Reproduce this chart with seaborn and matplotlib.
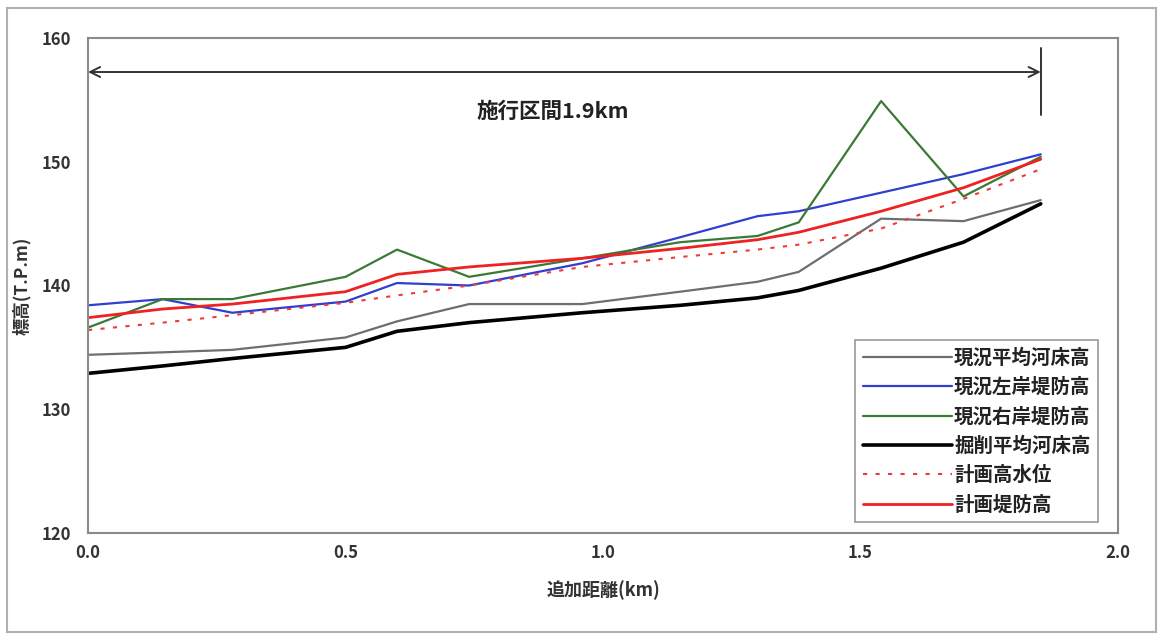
import matplotlib
matplotlib.use('Agg')
import matplotlib.pyplot as plt
import seaborn as sns
from matplotlib.patches import Rectangle

# ────────────────────────────────────────────────
# DATA
# ────────────────────────────────────────────────
distance = [0.0, 0.145, 0.28, 0.5, 0.6, 0.74, 0.96, 1.15, 1.3, 1.38, 1.54, 1.70, 1.85]

bed_now      = [134.4, 134.6, 134.8, 135.8, 137.1, 138.5, 138.5, 139.5, 140.3, 141.1, 145.4, 145.2, 146.9]
left_bank    = [138.4, 138.9, 137.8, 138.7, 140.2, 140.0, 141.8, 143.9, 145.6, 146.0, 147.5, 149.0, 150.6]
right_bank   = [136.6, 138.9, 138.9, 140.7, 142.9, 140.7, 142.2, 143.5, 144.0, 145.1, 154.9, 147.2, 150.4]
bed_dredged  = [132.9, 133.5, 134.1, 135.0, 136.3, 137.0, 137.8, 138.4, 139.0, 139.6, 141.4, 143.5, 146.6]
plan_hwl     = [136.4, 137.0, 137.6, 138.6, 139.2, 140.0, 141.5, 142.3, 142.9, 143.3, 144.6, 147.0, 149.4]
plan_levee   = [137.4, 138.1, 138.5, 139.5, 140.9, 141.5, 142.2, 143.0, 143.7, 144.3, 146.0, 147.9, 150.2]

series_labels = ['現況平均河床高', '現況左岸堤防高', '現況右岸堤防高',
                 '掘削平均河床高', '計画高水位', '計画堤防高']

x_ticks = [0.0, 0.5, 1.0, 1.5, 2.0]
y_ticks = [120, 130, 140, 150, 160]

section_end = 1.85
section_text = '施行区間1.9km'

# ────────────────────────────────────────────────
# STYLE
# ────────────────────────────────────────────────
sns.set_style('white')
plt.rcParams['font.family'] = ['Noto Sans CJK JP', 'DejaVu Sans']

styles = [
    dict(color='#6e6e6e', lw=1.6, ls='-'),
    dict(color='#2f3fd0', lw=1.6, ls='-'),
    dict(color='#3a7a34', lw=1.6, ls='-'),
    dict(color='#000000', lw=2.6, ls='-'),
    dict(color='#ee3a3a', lw=1.5, ls=(0, (2, 4))),
    dict(color='#ee2222', lw=2.0, ls='-'),
]
all_series = [bed_now, left_bank, right_bank, bed_dredged, plan_hwl, plan_levee]

fig = plt.figure(figsize=(11.63, 6.35), dpi=100)
ax = fig.add_axes([0.0757, 0.1606, 0.9613 - 0.0757, 0.9402 - 0.1606])

for vals, lab, st in zip(all_series, series_labels, styles):
    sns.lineplot(x=distance, y=vals, ax=ax, label=lab, color=st['color'],
                 linewidth=st['lw'], linestyle=st['ls'])

ax.set_xlim(0, 2.0)
ax.set_ylim(120, 160)
ax.set_xticks(x_ticks)
ax.set_xticklabels([f'{v:.1f}' for v in x_ticks])
ax.set_yticks(y_ticks)
ax.tick_params(direction='in', length=3, color='#999999', labelsize=12,
               labelcolor='#333333')
for lbl in ax.get_xticklabels() + ax.get_yticklabels():
    lbl.set_fontweight('bold')
ax.tick_params(axis='x', pad=8)
ax.tick_params(axis='y', pad=12)
for sp in ax.spines.values():
    sp.set_color('#8a8a8a')
    sp.set_linewidth(1.5)

ax.set_xlabel('追加距離(km)', fontsize=13, fontweight='bold', color='#333333')
ax.set_ylabel('標高(T.P.m)', fontsize=12.5, fontweight='bold', color='#333333')
ax.xaxis.set_label_coords(0.5, -0.095)
ax.yaxis.set_label_coords(-0.055, 0.5)

# construction section annotation
ax.annotate('', xy=(0.0, 157.25), xytext=(section_end, 157.25),
            arrowprops=dict(arrowstyle='<->', color='#333333', lw=1.4,
                            shrinkA=0, shrinkB=0, mutation_scale=18))
ax.plot([section_end, section_end], [159.2, 153.8], color='#333333', lw=1.4)
ax.text(0.902, 154.1, section_text, ha='center', va='center', fontsize=15.5,
        fontweight='bold', color='#222222')

leg = ax.legend(loc='lower right', bbox_to_anchor=(0.981, 0.022), borderaxespad=0,
                fontsize=14, handlelength=4.6, handletextpad=0.1, labelspacing=0.52,
                borderpad=0.4, fancybox=False, framealpha=1, edgecolor='#999999')
leg.get_frame().set_linewidth(1.2)
for t in leg.get_texts():
    t.set_fontweight('bold')
    t.set_color('#222222')

# outer chart frame
fig.patches.append(Rectangle((0.006, 0.004), 0.988, 0.983, transform=fig.transFigure,
                             fill=False, edgecolor='#b0b0b0', lw=1.5))

fig.savefig('out.png', dpi=100)
